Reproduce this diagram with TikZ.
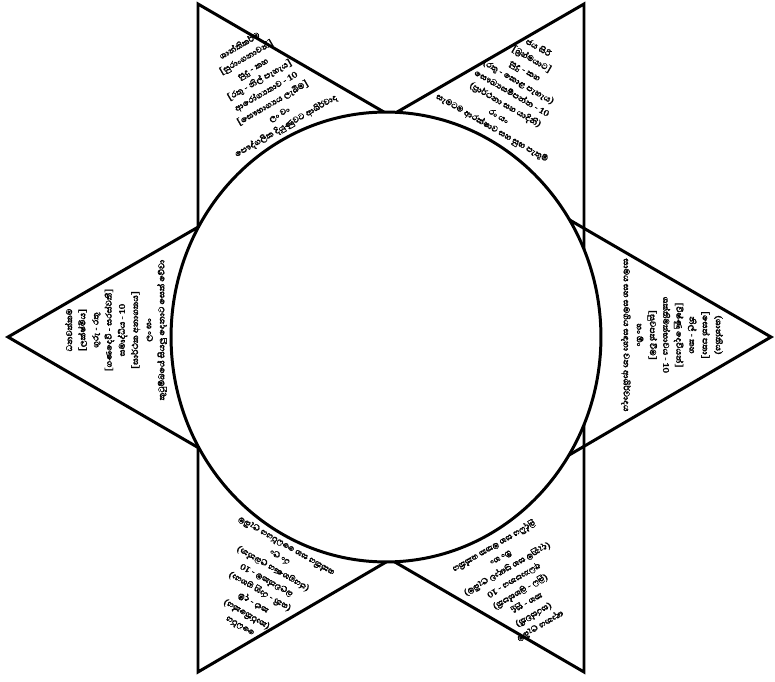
\documentclass[tikz,border=0pt]{standalone}
\usepackage{fontspec}
\newfontfamily\sinhala[Script=Sinhala, FakeBold=1.6]{Abhaya Libre}
\usetikzlibrary{positioning}
\tikzset{
  edge/.style = {line width=1.7pt, line join=miter},
  ring/.style = {line width=1.7pt, fill=white},
  lbl/.style  = {align=center, inner sep=0pt, font=\sinhala\bfseries\fontsize{6.2}{7.5}\selectfont}
}

\begin{document}
\begin{tikzpicture}[x=0.02cm, y=-0.02cm]
\useasboundingbox (0,0) rectangle (775,682);
% star points
\coordinate (ptl) at (198,4);
\coordinate (ptr) at (584,4);
\coordinate (pr)  at (771,337);
\coordinate (pbr) at (584,672);
\coordinate (pbl) at (198,672);
\coordinate (pl)  at (8,337);
\coordinate (mid) at (386,337);

\draw[edge] (ptl) -- (pr) -- (pbl) -- cycle;
\draw[edge] (ptr) -- (pl) -- (pbr) -- cycle;
\draw[ring] (mid) ellipse [x radius=4.3cm, y radius=4.5cm];

% texts, top of each line towards the point
\node[lbl, rotate=30] (ttl) at (263,86) {ශාන්තිකර්ම\\{[}සුරාංගනාවන්]\\සුදු - කහ\\{[}රතු - නිල් පැහැය]\\ආරෝග්‍යතාව - 10\\{[}සෞභාග්‍යය ලැබීම]\\ලං වං\\පෞද්ගලික දියුණුවට ආශිර්වාද};
\node[lbl, rotate=-30] (ttr) at (515,88) {ජය සිරි\\{[}බ්‍රහ්මයාට]\\සුදු - කහ\\(රතු - කොළ පැහැය)\\සෞඛ්‍යසම්පන්න - 10\\(ප්‍රාර්ථනා සහ යාදිනි)\\රං යං\\සැමටම ආරක්ෂාව සහ සුභ පැතුම්};
\node[lbl, rotate=-90] (tr) at (672,335) {(ශාන්තිය)\\{[}සෙත් පතා]\\නිල් - කහ\\{[}විෂ්ණු දෙවියන්]\\ශක්තිමත්භාවය - 10\\{[}සුවපත් වීම]\\හං ඕං\\සාමය සහ සමගිය සඳහා වන ආශිර්වාදය};
\node[lbl, rotate=90] (tl) at (116,330) {ධනවත්කම\\{[}ලක්ෂ්මිය]\\ගුරු - රතු\\{[}ගණදෙවි - සරස්වතී]\\සමෘද්ධිය - 10\\{[}සාර්ථක අනාගතය]\\ලං ඝං\\කුටුම්බයේ සියලු දෙනාට සෙත් වේවා};
\node[lbl, rotate=150] (tbl) at (263,586) {ධෛර්ය\\(කාර්තිකේය)\\කළු - දම්\\(ශනි - රාහු ග්‍රහයා)\\බලවත්කම - 10\\(ජයග්‍රහණය ලබන්න)\\රං ලං\\ශක්තිය සහ ධෛර්යය ලැබීම};
\node[lbl, rotate=-150] (tbr) at (517,586) {ඥානය ලැබීම\\(සරස්වතී)\\කහ - සුදු\\(බුධ - බ්‍රහස්පති)\\අධ්‍යාපනය - 10\\(දැනුම සහ ප්‍රඥාව ලැබීම)\\ඕං හං\\බුද්ධිය සහ මතක ශක්තිය};
\end{tikzpicture}
\end{document}
